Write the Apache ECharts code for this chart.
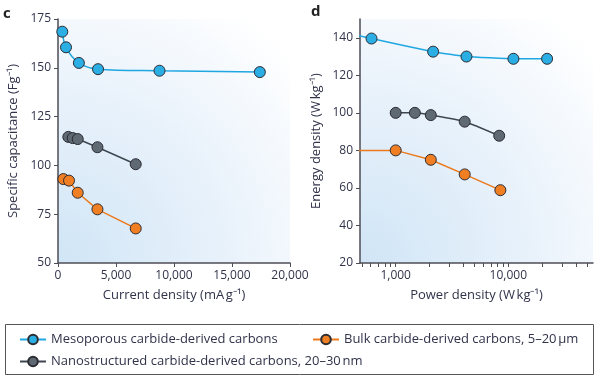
<!DOCTYPE html>
<html>
<head>
<meta charset="utf-8">
<script src="https://cdn.jsdelivr.net/npm/echarts@6/dist/echarts.min.js"></script>
<style>html,body{margin:0;padding:0;background:#fff;}#c{width:599px;height:378px;}</style>
</head>
<body>
<div id="c"></div>
<script>
// ---- Data (panel c: capacitance vs current density) ----
const seriesNames = ['Mesoporous carbide-derived carbons', 'Bulk carbide-derived carbons, 5\u201320\u202f\u00b5m', 'Nanostructured carbide-derived carbons, 20\u201330\u202fnm'];
const cMesoX = [370, 690, 1800, 3450, 8750, 17400];
const cMesoY = [168.5, 160.5, 152.5, 149.3, 148.5, 147.8];
const cNanoX = [890, 1270, 1700, 3400, 6700];
const cNanoY = [114.6, 114.0, 113.5, 109.3, 100.6];
const cBulkX = [460, 950, 1700, 3400, 6700];
const cBulkY = [93.0, 92.2, 86.0, 77.5, 67.7];
const cXTicks = [0, 5000, 10000, 15000, 20000];
const cYTicks = [50, 75, 100, 125, 150, 175];
// ---- Data (panel d: energy vs power density) ----
// first entries of meso and bulk continue the visible line to the left axis edge (no marker)
const dMesoX = [400, 610, 2150, 4250, 11100, 22100];
const dMesoY = [142.0, 139.6, 132.6, 130.0, 128.8, 128.8];
const dNanoX = [1000, 1480, 2050, 4100, 8300];
const dNanoY = [100.0, 100.0, 98.8, 95.3, 87.8];
const dBulkX = [400, 1000, 2050, 4100, 8500];
const dBulkY = [80.0, 80.0, 75.0, 67.2, 58.8];
const dHiddenFirst = [true, false, true];
const dXLabels = [1000, 10000];
const dXTicks = [500, 600, 700, 800, 900, 1000, 2000, 3000, 4000, 5000, 6000, 7000, 8000, 9000, 10000, 20000, 30000, 40000, 50000];
const dYTicks = [20, 40, 60, 80, 100, 120, 140];

const colors = {
  meso: {line: '#1ea7e1', fill: '#2aaee4'},
  bulk: {line: '#ec7a1c', fill: '#ef7f22'},
  nano: {line: '#3e474f', fill: '#5e6973'}
};
const textColor = '#30334a';
const axisColor = '#4d4d55';
const font = 'Open Sans';

function zip(xs, ys, hideFirst) {
  return xs.map((x, i) => (hideFirst && i === 0) ? {value: [x, ys[i]], symbol: 'none'} : [x, ys[i]]);
}
function fmt(v) { return Number(v).toLocaleString('en-US'); }
const bg = {type: 'radial', x: 0, y: 1, r: 1.35, colorStops: [
  {offset: 0, color: '#d0e5f6'}, {offset: 0.55, color: '#e9f2fb'}, {offset: 1, color: '#ffffff'}]};

function mk(name, c, data, xi, smooth) {
  return {
    name: name, type: 'line', xAxisIndex: xi, yAxisIndex: xi, data: data,
    smooth: smooth, symbol: 'circle', symbolSize: 11,
    lineStyle: {color: c.line, width: 1.5},
    itemStyle: {color: c.fill, borderColor: '#2c2c33', borderWidth: 1},
    emphasis: {disabled: true}, z: 3
  };
}
const axisLabelBase = {color: textColor, fontFamily: font, fontSize: 12};
const nameStyle = {color: textColor, fontFamily: font, fontSize: 13};

const chart = echarts.init(document.getElementById('c'), null, {renderer: 'canvas'});
chart.setOption({
  animation: false,
  backgroundColor: '#ffffff',
  color: [colors.meso.fill, colors.bulk.fill, colors.nano.fill],
  grid: [
    {left: 58, top: 19, width: 232, height: 244, show: true, borderWidth: 0, backgroundColor: bg},
    {left: 360, top: 19, width: 233, height: 244, show: true, borderWidth: 0, backgroundColor: bg}
  ],
  xAxis: [
    {gridIndex: 0, type: 'value', min: cXTicks[0], max: cXTicks[cXTicks.length - 1], interval: 5000,
     name: 'Current density (mA\u202fg\u207b\u00b9)', nameLocation: 'middle', nameGap: 26, nameTextStyle: nameStyle,
     axisLine: {show: true, onZero: false, lineStyle: {color: axisColor, width: 1.5}},
     axisTick: {show: true, length: 4, lineStyle: {color: axisColor}},
     axisLabel: Object.assign({}, axisLabelBase, {margin: 7, formatter: fmt}),
     splitLine: {show: false}},
    {gridIndex: 1, type: 'log', min: 482, max: 56500, logBase: 10,
     name: 'Power density (W\u202fkg\u207b\u00b9)', nameLocation: 'middle', nameGap: 26, nameTextStyle: nameStyle,
     axisLine: {show: true, onZero: false, lineStyle: {color: axisColor, width: 1.5}},
     axisTick: {show: true, length: 4, lineStyle: {color: axisColor}, customValues: dXTicks},
     axisLabel: Object.assign({}, axisLabelBase, {margin: 7, formatter: fmt, customValues: dXLabels}),
     minorTick: {show: false}, splitLine: {show: false}}
  ],
  yAxis: [
    {gridIndex: 0, type: 'value', min: cYTicks[0], max: cYTicks[cYTicks.length - 1], interval: 25,
     name: 'Specific capacitance (Fg\u207b\u00b9)', nameLocation: 'middle', nameGap: 38, nameTextStyle: nameStyle,
     axisLine: {show: true, onZero: false, lineStyle: {color: axisColor, width: 1.5}},
     axisTick: {show: true, length: 4, lineStyle: {color: axisColor}},
     axisLabel: Object.assign({}, axisLabelBase, {margin: 7}),
     splitLine: {show: false}},
    {gridIndex: 1, type: 'value', min: 20, max: 150, interval: 20,
     name: 'Energy density (W\u202fkg\u207b\u00b9)', nameLocation: 'middle', nameGap: 37, nameTextStyle: nameStyle,
     axisLine: {show: true, onZero: false, lineStyle: {color: axisColor, width: 1.5}},
     axisTick: {show: true, length: 4, lineStyle: {color: axisColor}, customValues: dYTicks},
     axisLabel: Object.assign({}, axisLabelBase, {margin: 7, customValues: dYTicks}),
     splitLine: {show: false}}
  ],
  legend: [
    {data: [seriesNames[0]], left: 14, top: 328, itemWidth: 26, itemHeight: 12, itemGap: 8,
     textStyle: {color: textColor, fontFamily: font, fontSize: 13}, selectedMode: false},
    {data: [seriesNames[1]], left: 307, top: 328, itemWidth: 26, itemHeight: 12,
     textStyle: {color: textColor, fontFamily: font, fontSize: 13}, selectedMode: false},
    {data: [seriesNames[2]], left: 14, top: 350, itemWidth: 26, itemHeight: 12,
     textStyle: {color: textColor, fontFamily: font, fontSize: 13}, selectedMode: false}
  ],
  graphic: [
    {type: 'rect', left: 3, top: 322, shape: {width: 588, height: 50}, style: {fill: 'none', stroke: '#555', lineWidth: 1}, silent: true},
    {type: 'text', left: 3, top: 6, style: {text: 'c', font: 'bold 15px "Open Sans"', fill: '#222'}},
    {type: 'text', left: 311, top: 4, style: {text: 'd', font: 'bold 15px "Open Sans"', fill: '#222'}}
  ],
  series: [
    mk(seriesNames[0], colors.meso, zip(cMesoX, cMesoY), 0, 0.35),
    mk(seriesNames[1], colors.bulk, zip(cBulkX, cBulkY), 0, false),
    mk(seriesNames[2], colors.nano, zip(cNanoX, cNanoY), 0, false),
    mk(seriesNames[0], colors.meso, zip(dMesoX, dMesoY, dHiddenFirst[0]), 1, 0.12),
    mk(seriesNames[1], colors.bulk, zip(dBulkX, dBulkY, dHiddenFirst[2]), 1, false),
    mk(seriesNames[2], colors.nano, zip(dNanoX, dNanoY, dHiddenFirst[1]), 1, 0.2)
  ]
});
</script>
</body>
</html>
